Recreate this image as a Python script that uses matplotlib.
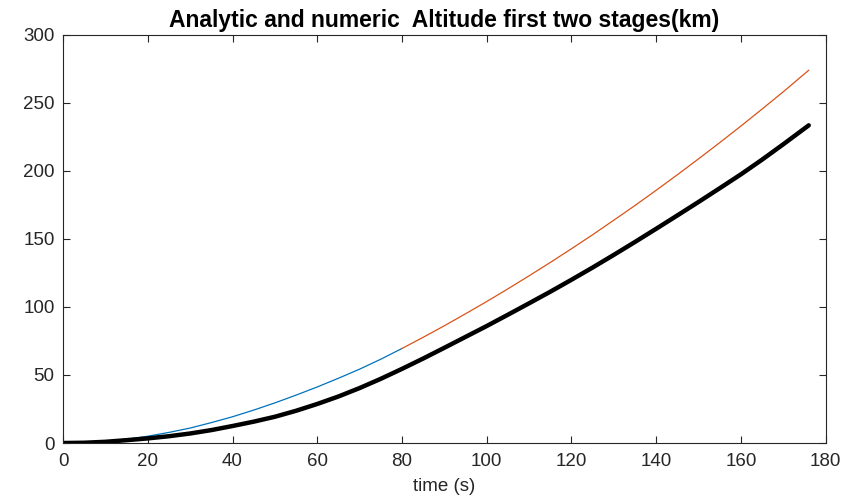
import matplotlib
matplotlib.use("Agg")
import matplotlib.pyplot as plt

# analytic, first stage (blue)
t_stage1 = [0, 5, 10, 15, 20, 25, 30, 35, 40, 45, 50, 55, 60, 65, 70, 75, 80]
h_stage1 = [0, 0.3, 1.2, 2.8, 5, 7.8, 11, 15, 19.3, 24.2, 29.5, 35.2, 41.2, 47.6, 54.3, 61.6, 69.5]

# analytic, second stage (orange)
t_stage2 = [80, 85, 90, 95, 100, 105, 110, 115, 120, 125, 130, 135, 140,
            145, 150, 155, 160, 165, 170, 176]
h_stage2 = [69.5, 77.7, 86.2, 95, 104, 113.3, 122.9, 132.7, 142.8, 153.1, 163.8,
            174.6, 185.8, 197.2, 208.9, 220.8, 233, 245.5, 258.2, 274]

# numeric solution (black)
t_num = [0, 5, 10, 15, 20, 25, 30, 35, 40, 45, 50, 55, 60, 65, 70, 75, 80, 85, 90,
         95, 100, 105, 110, 115, 120, 125, 130, 135, 140, 145, 150, 155, 160, 165,
         170, 176]
h_num = [0, 0.2, 0.9, 2.1, 3.4, 5, 7, 9.5, 12.5, 15.7, 19.3, 23.7, 28.7, 34.2, 40.4,
         47.2, 54.5, 62.1, 70, 78, 86, 94.3, 102.7, 111.2, 120, 129, 138.3, 147.8,
         157.5, 167.3, 177.2, 187.3, 197.5, 208.3, 219.6, 233.5]

x_ticks = list(range(0, 181, 20))
y_ticks = list(range(0, 301, 50))

plt.rcParams['font.family'] = ['Liberation Sans', 'DejaVu Sans']
gray = '#262626'

fig = plt.figure(figsize=(8.46, 4.98), dpi=100)
ax = fig.add_axes([0.0745, 0.1104, 0.9015, 0.8196])

ax.plot(t_stage1, h_stage1, color='#0072BD', lw=0.9)
ax.plot(t_stage2, h_stage2, color='#D95319', lw=0.9)
ax.plot(t_num, h_num, color='black', lw=3.2, solid_capstyle='round')

ax.set_xlim(0, 180)
ax.set_ylim(0, 300)
ax.set_xticks(x_ticks)
ax.set_yticks(y_ticks)
ax.tick_params(direction='in', top=True, right=True, length=5, width=0.8,
               labelsize=13.5, colors=gray)
ax.tick_params(axis='x', pad=7)
ax.tick_params(axis='y', pad=6)
for sp in ax.spines.values():
    sp.set_color(gray)
    sp.set_linewidth(0.8)

ax.set_title('Analytic and numeric  Altitude first two stages(km)',
             fontsize=16.5, fontweight='bold', color='black', pad=6)
ax.set_xlabel('time (s)', fontsize=13.5, color=gray, labelpad=6)

fig.savefig('out.png', dpi=100)
